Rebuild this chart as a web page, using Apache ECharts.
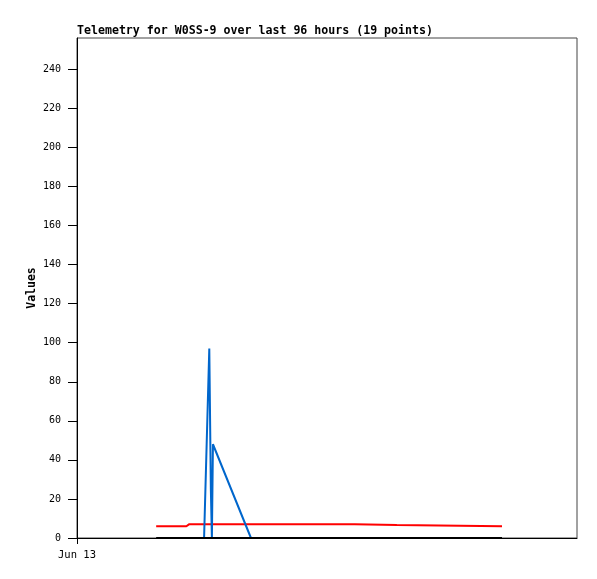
<!DOCTYPE html>
<html>
<head>
<meta charset="utf-8">
<script src="https://cdn.jsdelivr.net/npm/echarts@6/dist/echarts.min.js"></script>
<style>html,body{margin:0;padding:0;background:#fff}#c{width:597px;height:579px}</style>
</head>
<body>
<div id="c"></div>
<script>
// hours since start of Jun 13
const hours = [15.2, 21.0, 21.5, 24.4, 25.4, 25.7, 25.9, 26.1, 33.4, 53.3, 53.4, 61.4, 61.5, 81.6];
const redValues = [6.0, 6.0, 7.0, null, null, null, null, null, null, 7.0, 6.6, 6.6, 6.0, 6.0];
const blueValues = [null, null, null, 0, 97, 25, 0, 48, 0, null, null, null, null, null];
const blackValues = [0, 0, 0, null, null, null, null, null, null, null, null, null, null, 0];
const yTicks = [0, 20, 40, 60, 80, 100, 120, 140, 160, 180, 200, 220, 240];
const xTickLabels = ['Jun 13'];
const titleText = 'Telemetry for W0SS-9 over last 96 hours (19 points)';

function pairs(vals) {
  const out = [];
  vals.forEach((v, i) => { if (v !== null) out.push([hours[i], v]); });
  return out;
}
const mono = 'DejaVu Sans Mono';
const chart = echarts.init(document.getElementById('c'), null, {renderer: 'canvas'});
chart.setOption({
  animation: false,
  title: {
    text: titleText, left: 77, top: 25, padding: 0,
    textStyle: {fontFamily: mono, fontSize: 11.6, fontWeight: 'bold', color: '#000'}
  },
  grid: {left: 77, top: 38, width: 500, height: 500, show: true, borderColor: '#444', borderWidth: 1, backgroundColor: '#fff'},
  xAxis: {
    type: 'value', min: 0, max: 96,
    axisLine: {show: true, lineStyle: {color: '#000', width: 1}},
    axisTick: {show: true, length: 6, customValues: [0], lineStyle: {color: '#000'}},
    axisLabel: {show: true, customValues: [0], formatter: () => xTickLabels[0], margin: 12,
      fontFamily: mono, fontSize: 10.5, color: '#000'},
    splitLine: {show: false}
  },
  yAxis: {
    type: 'value', min: 0, max: 256,
    name: 'Values', nameLocation: 'middle', nameRotate: 90, nameGap: 39, nameMoveOverlap: false,
    nameTextStyle: {fontFamily: mono, fontSize: 11.5, fontWeight: 'bold', color: '#000'},
    axisLine: {show: true, lineStyle: {color: '#000', width: 1}},
    axisTick: {show: true, length: 9, customValues: yTicks, lineStyle: {color: '#000'}},
    axisLabel: {show: true, customValues: yTicks, margin: 16, fontFamily: mono, fontSize: 10, color: '#000'},
    splitLine: {show: false}
  },
  series: [
    {type: 'line', data: pairs(redValues), showSymbol: false, lineStyle: {color: '#ff0000', width: 2}, itemStyle: {color: '#ff0000'}},
    {type: 'line', data: pairs(blueValues), showSymbol: false, lineStyle: {color: '#0066cc', width: 2}, itemStyle: {color: '#0066cc'}},
    {type: 'line', data: pairs(blackValues), showSymbol: false, lineStyle: {color: '#000000', width: 2}, itemStyle: {color: '#000'}}
  ]
});
</script>
</body>
</html>
